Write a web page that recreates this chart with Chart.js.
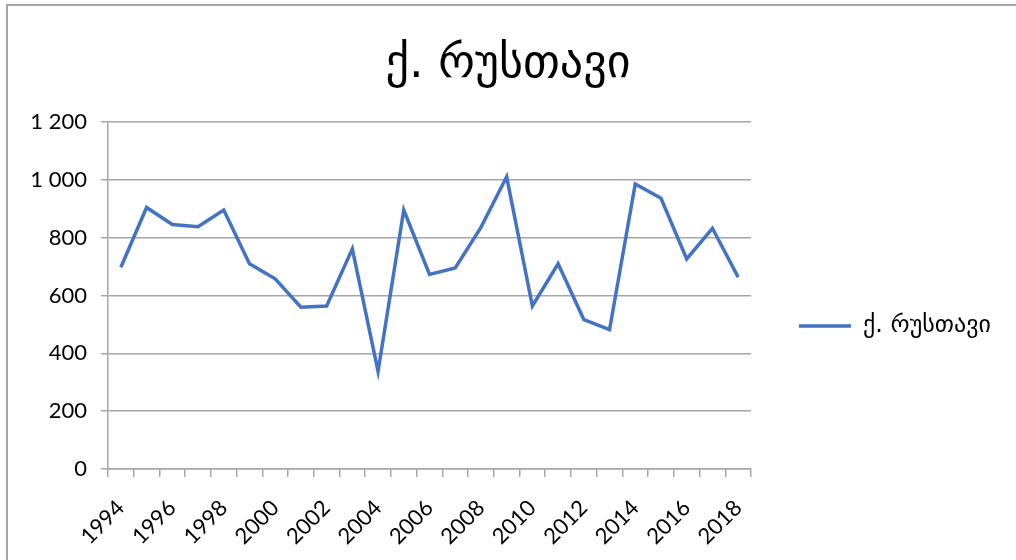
<!DOCTYPE html>
<html>
<head>
<meta charset="utf-8">
<script src="https://cdn.jsdelivr.net/npm/chart.js@4"></script>
<style>
  body { margin: 0; background: #fff; }
  #wrap { position: relative; width: 1016px; height: 560px; }
  #frame { position: absolute; left: 6px; top: 4px; right: 0; bottom: 0;
           border-left: 2px solid #a6a6a6; border-top: 2px solid #a6a6a6; pointer-events: none; }
  canvas { position: absolute; left: 0; top: 0; }
</style>
</head>
<body>
<div id="wrap">
  <canvas id="rustaviChart" width="1016" height="560"></canvas>
  <div id="frame"></div>
</div>
<script>
// data
const years = ['1994', '1995', '1996', '1997', '1998', '1999', '2000', '2001', '2002', '2003',
  '2004', '2005', '2006', '2007', '2008', '2009', '2010', '2011', '2012', '2013',
  '2014', '2015', '2016', '2017', '2018'];
const values = [698, 905, 846, 838, 896, 710, 658, 560, 564, 762,
  338, 896, 673, 696, 836, 1011, 564, 710, 517, 482,
  986, 937, 727, 833, 664];
const seriesName = 'ქ. რუსთავი';
const titleText = 'ქ. რუსთავი';

const georgianFont = "'DejaVu Sans', sans-serif";
const numFont = "Lato, 'Open Sans', sans-serif";
const gridGray = '#a6a6a6';

const ctx = document.getElementById('rustaviChart').getContext('2d');

// legend sits lower than the middle of the plot in the original
const legendShift = {
  id: 'legendShift',
  afterLayout(chart) {
    const lg = chart.legend;
    if (!lg) return;
    lg.top += 46;
    lg.bottom += 46;
  }
};

const data = {
  labels: years,
  datasets: [{
    label: seriesName,
    data: values,
    borderColor: '#4472C4',
    backgroundColor: '#4472C4',
    borderWidth: 3.5,
    pointRadius: 0,
    tension: 0,
    fill: false
  }]
};

const config = {
  type: 'line',
  data,
  options: {
    responsive: false,
    animation: false,
    layout: { padding: { left: 0, right: 0, top: 0, bottom: 0 } },
    scales: {
      x: {
        offset: true,
        grid: { offset: true, drawOnChartArea: false, color: gridGray, lineWidth: 1.5, tickLength: 8 },
        border: { color: gridGray, width: 1.5 },
        ticks: {
          autoSkip: false,
          minRotation: 45,
          maxRotation: 45,
          padding: 18,
          color: '#000',
          font: { family: numFont, size: 22 },
          callback: (v, i) => (i % 2 === 0 ? years[i] : '')
        },
        afterFit: (s) => { s.height = 91; }
      },
      y: {
        min: 0,
        max: 1200,
        ticks: {
          stepSize: 200,
          padding: 14,
          color: '#000',
          font: { family: numFont, size: 22 },
          callback: (v) => String(v).replace(/\B(?=(\d{3})+(?!\d))/g, ' ')
        },
        grid: { color: gridGray, lineWidth: 1.5, tickLength: 7 },
        border: { color: gridGray, width: 1.5 },
        afterFit: (s) => { s.width = 108; }
      },
      spacer: {
        position: 'right',
        display: true,
        grid: { display: false },
        border: { display: false },
        ticks: { display: false },
        afterFit: (s) => { s.width = 38; }
      }
    },
    plugins: {
      title: {
        display: true,
        text: titleText,
        color: '#000',
        font: { family: georgianFont, size: 46, weight: 'normal' },
        padding: { top: 37, bottom: 30 }
      },
      legend: {
        position: 'right',
        labels: {
          usePointStyle: true,
          pointStyle: 'line',
          pointStyleWidth: 52,
          color: '#000',
          padding: 10,
          font: { family: georgianFont, size: 24 }
        }
      },
      tooltip: { enabled: false }
    }
  },
  plugins: [legendShift]
};

const myChart = new Chart(ctx, config);

// fixed legend width so the plot ends where the original does
const origFit = myChart.legend.fit;
myChart.legend.fit = function () {
  origFit.call(this);
  this.width = 227;
};
myChart.update('none');
</script>
</body>
</html>
